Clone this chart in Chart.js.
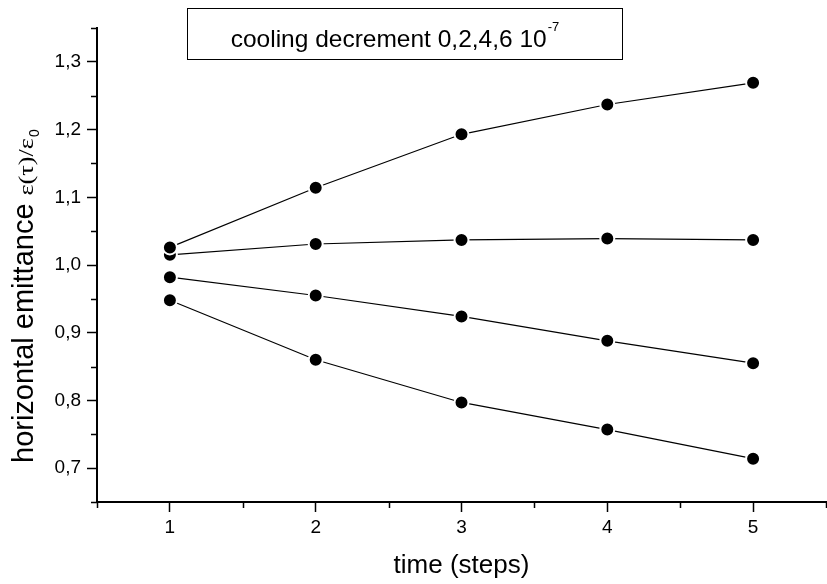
<!DOCTYPE html>
<html>
<head>
<meta charset="utf-8">
<script src="https://cdn.jsdelivr.net/npm/chart.js@4.4.0/dist/chart.umd.min.js"></script>
<style>
  body { margin: 0; background: #fff; }
  canvas { display: block; }
</style>
</head>
<body>
<canvas id="emittanceChart" width="827" height="584"></canvas>
<script>
// ===== Data =====
const steps = [1, 2, 3, 4, 5];
const seriesA = [1.026, 1.114, 1.193, 1.237, 1.269];
const seriesB = [1.015, 1.031, 1.037, 1.039, 1.037];
const seriesC = [0.982, 0.955, 0.924, 0.888, 0.855];
const seriesD = [0.948, 0.860, 0.797, 0.757, 0.714];
const yTicks = [0.7, 0.8, 0.9, 1.0, 1.1, 1.2, 1.3];
const xTicks = [1, 2, 3, 4, 5];

const SANS = '"Liberation Sans", Arial, sans-serif';
const SERIF = '"Liberation Serif", "Times New Roman", serif';

function toPoints(values) {
  return steps.map((s, i) => ({ x: s, y: values[i] }));
}

function makeSet(values) {
  return {
    data: toPoints(values),
    borderColor: '#000',
    borderWidth: 1.2,
    pointRadius: 7,
    pointBackgroundColor: '#000',
    pointBorderColor: '#fff',
    pointBorderWidth: 2,
    fill: false,
    tension: 0
  };
}

// ===== Minor ticks + titles =====
const decorations = {
  id: 'decorations',
  afterDraw(chart) {
    const { ctx, chartArea, scales } = chart;
    const xs = scales.x, ys = scales.y;
    ctx.save();
    ctx.strokeStyle = '#000';
    ctx.lineWidth = 1.5;

    // minor ticks
    ctx.beginPath();
    for (let v = 0.65; v <= 1.351; v += 0.1) {
      const py = Math.round(ys.getPixelForValue(v)) + 0.5;
      ctx.moveTo(chartArea.left - 6, py);
      ctx.lineTo(chartArea.left, py);
    }
    for (let v = 0.5; v <= 5.51; v += 1) {
      const px = Math.min(Math.round(xs.getPixelForValue(v)), chart.width - 1) + 0.5;
      ctx.moveTo(px, chartArea.bottom);
      ctx.lineTo(px, chartArea.bottom + 6);
    }
    ctx.stroke();

    ctx.fillStyle = '#000';

    // title box
    ctx.lineWidth = 1;
    ctx.strokeRect(187.5, 8.5, 435, 51);
    const mainTxt = 'cooling decrement 0,2,4,6 10';
    ctx.font = '24.5px ' + SANS;
    const w1 = ctx.measureText(mainTxt).width;
    ctx.font = '13px ' + SANS;
    const w2 = ctx.measureText('-7').width;
    let tx = 395 - (w1 + w2 + 1) / 2;
    ctx.textBaseline = 'alphabetic';
    ctx.textAlign = 'left';
    ctx.font = '24.5px ' + SANS;
    ctx.fillText(mainTxt, tx, 47);
    ctx.font = '13px ' + SANS;
    ctx.fillText('-7', tx + w1 + 1, 31);

    // x title
    ctx.font = '26px ' + SANS;
    ctx.textAlign = 'center';
    ctx.fillText('time (steps)', (chartArea.left + chartArea.right) / 2, 573);

    // y title (rotated, mixed fonts, serif part stretched along the text)
    ctx.translate(33, 463);
    ctx.rotate(-Math.PI / 2);
    ctx.textAlign = 'left';
    const part1 = 'horizontal emittance';
    ctx.font = '29px ' + SANS;
    ctx.fillText(part1, 0, 0);
    let off = ctx.measureText(part1).width + 8;
    ctx.save();
    ctx.translate(off, 0);
    ctx.scale(1.25, 1);
    ctx.font = '21px ' + SERIF;
    const part2 = 'ε(τ)/ε';
    ctx.fillText(part2, 0, 0);
    const w3 = ctx.measureText(part2).width * 1.25;
    ctx.restore();
    off += w3;
    ctx.font = '14px ' + SANS;
    ctx.fillText('0', off + 1, 6);

    ctx.restore();
  }
};

// ===== Chart =====
document.addEventListener('DOMContentLoaded', () => {
  const ctx = document.getElementById('emittanceChart');

  new Chart(ctx, {
    type: 'line',
    data: {
      datasets: [makeSet(seriesA), makeSet(seriesB), makeSet(seriesC), makeSet(seriesD)]
    },
    options: {
      responsive: false,
      devicePixelRatio: 1,
      animation: false,
      layout: { autoPadding: false, padding: { top: 28, right: 1, left: 0, bottom: 0 } },
      plugins: {
        legend: { display: false },
        tooltip: { enabled: false }
      },
      scales: {
        x: {
          type: 'linear',
          min: 0.5,
          max: 5.5,
          afterFit: (scale) => {
            scale.height = 82;
            scale.paddingLeft = 0;
            scale.paddingRight = 0;
          },
          afterBuildTicks: (scale) => { scale.ticks = xTicks.map(v => ({ value: v })); },
          border: { color: '#000', width: 2 },
          grid: {
            drawOnChartArea: false,
            drawTicks: true,
            tickLength: 10,
            tickColor: '#000',
            tickWidth: 1.5
          },
          ticks: {
            color: '#000',
            padding: 4,
            maxRotation: 0,
            font: { family: SANS, size: 19 },
            callback: (v) => String(v)
          }
        },
        y: {
          min: 0.65,
          max: 1.35,
          afterFit: (scale) => {
            scale.width = 97;
            scale.paddingTop = 0;
            scale.paddingBottom = 0;
          },
          afterBuildTicks: (scale) => { scale.ticks = yTicks.map(v => ({ value: v })); },
          border: { color: '#000', width: 2 },
          grid: {
            drawOnChartArea: false,
            drawTicks: true,
            tickLength: 10,
            tickColor: '#000',
            tickWidth: 1.5
          },
          ticks: {
            color: '#000',
            padding: 6,
            font: { family: SANS, size: 19 },
            callback: (v) => v.toFixed(1).replace('.', ',')
          }
        }
      }
    },
    plugins: [decorations]
  });
});
</script>
</body>
</html>
